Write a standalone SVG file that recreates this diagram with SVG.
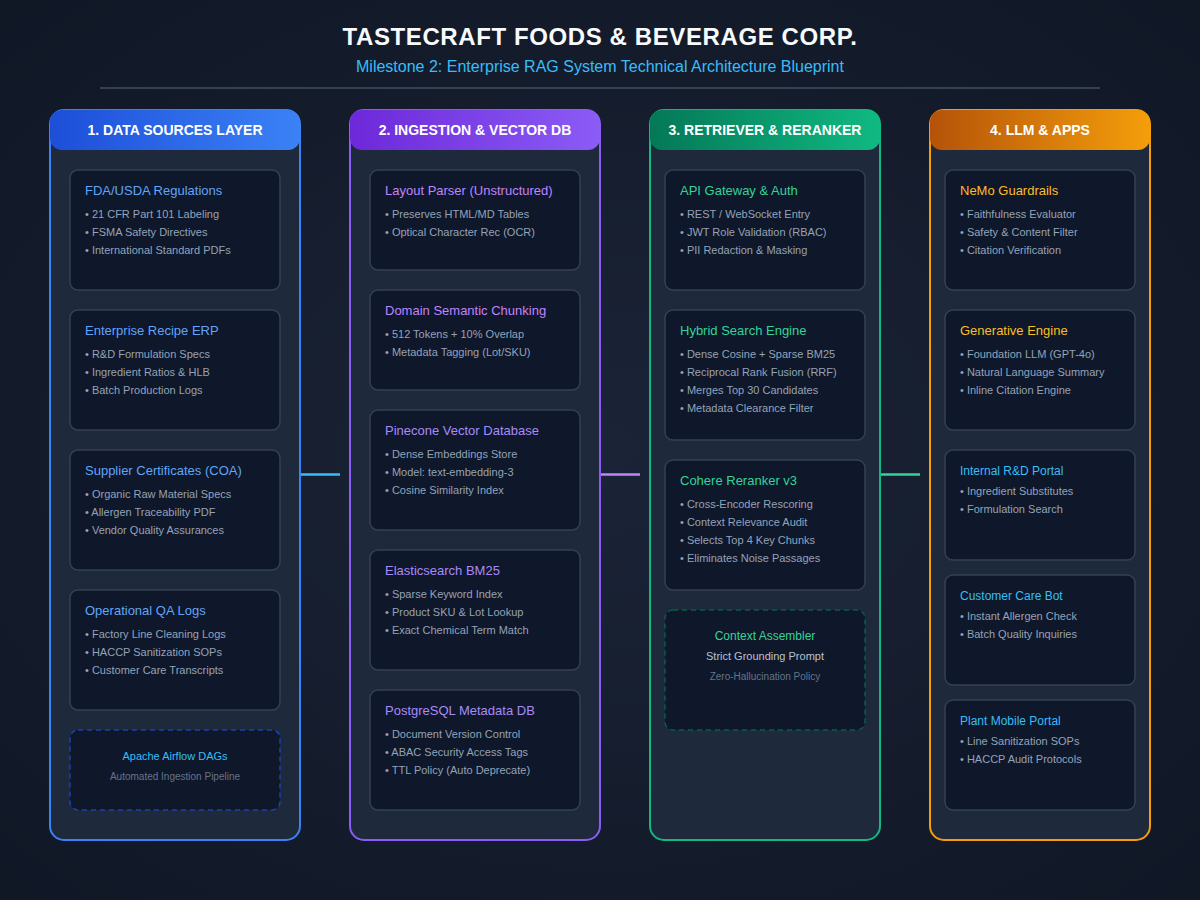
<svg xmlns="http://www.w3.org/2000/svg" width="1200" height="900" viewBox="0 0 1200 900">
<defs>
<radialGradient id="bg" cx="50%" cy="50%" r="75%">
<stop offset="0" stop-color="#1b2437"/>
<stop offset="1" stop-color="#0f1624"/>
</radialGradient>
<linearGradient id="g1" x1="0" y1="0" x2="1" y2="0"><stop offset="0" stop-color="#1d4ed8"/><stop offset="1" stop-color="#3b82f6"/></linearGradient>
<linearGradient id="g2" x1="0" y1="0" x2="1" y2="0"><stop offset="0" stop-color="#6d28d9"/><stop offset="1" stop-color="#8b5cf6"/></linearGradient>
<linearGradient id="g3" x1="0" y1="0" x2="1" y2="0"><stop offset="0" stop-color="#047857"/><stop offset="1" stop-color="#10b981"/></linearGradient>
<linearGradient id="g4" x1="0" y1="0" x2="1" y2="0"><stop offset="0" stop-color="#b45309"/><stop offset="1" stop-color="#f59e0b"/></linearGradient>
</defs>
<style>
text{font-family:"Liberation Sans",Arial,Helvetica,sans-serif}
.title{font-size:24px;font-weight:bold;fill:#f8fafc;text-anchor:middle;letter-spacing:0.6px}
.sub{font-size:16px;fill:#38bdf8;text-anchor:middle}
.col{fill:#1e293b;stroke-width:2}
.hdr{font-size:14px;font-weight:bold;fill:#ffffff;text-anchor:middle}
.card{fill:#0f172a;stroke:#334155;stroke-width:1.5}
.ct{font-size:13px}
.b{font-size:11px;fill:#94a3b8}
.blue{fill:#60a5fa}
.pl{fill:#c084fc}
.pu{fill:#a78bfa}
.gr{fill:#34d399}
.or{fill:#fbbf24}
.sk{fill:#38bdf8}
.dash{fill:#0f172a;stroke-width:1.5;stroke-dasharray:5 4}
.dt{font-size:11px;text-anchor:middle}
.dm{font-size:11px;fill:#b6c2d1;text-anchor:middle}
.ds{font-size:10px;fill:#64748b;text-anchor:middle}
.conn{stroke-width:2.5}
</style>
<rect width="1200" height="900" fill="url(#bg)"/>
<g id="header">
<text class="title" x="600" y="45">TASTECRAFT FOODS &amp; BEVERAGE CORP.</text>
<text class="sub" x="600" y="72">Milestone 2: Enterprise RAG System Technical Architecture Blueprint</text>
<line x1="100" y1="88" x2="1100" y2="88" stroke="#334155" stroke-width="2"/>
</g>

<g id="col1">
<rect class="col" x="50" y="110" width="250" height="730" rx="14" stroke="#3b82f6"/>
<rect x="50" y="110" width="250" height="40" rx="12" fill="url(#g1)"/>
<text class="hdr" x="175" y="135">1. DATA SOURCES LAYER</text>
</g>
<g id="col2">
<rect class="col" x="350" y="110" width="250" height="730" rx="14" stroke="#8b5cf6"/>
<rect x="350" y="110" width="250" height="40" rx="12" fill="url(#g2)"/>
<text class="hdr" x="475" y="135">2. INGESTION &amp; VECTOR DB</text>
</g>
<g id="col3">
<rect class="col" x="650" y="110" width="230" height="730" rx="14" stroke="#10b981"/>
<rect x="650" y="110" width="230" height="40" rx="12" fill="url(#g3)"/>
<text class="hdr" x="765" y="135">3. RETRIEVER &amp; RERANKER</text>
</g>
<g id="col4">
<rect class="col" x="930" y="110" width="220" height="730" rx="14" stroke="#f59e0b"/>
<rect x="930" y="110" width="220" height="40" rx="12" fill="url(#g4)"/>
<text class="hdr" x="1040" y="135">4. LLM &amp; APPS</text>
</g>

<g id="connectors">
<line class="conn" x1="301" y1="474.5" x2="340" y2="474.5" stroke="#38bdf8"/>
<line class="conn" x1="601" y1="474.5" x2="640" y2="474.5" stroke="#c084fc"/>
<line class="conn" x1="881" y1="474.5" x2="920" y2="474.5" stroke="#34d399"/>
</g>

<g id="fda">
<rect class="card" x="70" y="170" width="210" height="120" rx="8"/>
<text class="ct blue" x="85" y="195">FDA/USDA Regulations</text>
<text class="b" x="85" y="218">• 21 CFR Part 101 Labeling</text>
<text class="b" x="85" y="236">• FSMA Safety Directives</text>
<text class="b" x="85" y="254">• International Standard PDFs</text>
</g>
<g id="erp">
<rect class="card" x="70" y="310" width="210" height="120" rx="8"/>
<text class="ct blue" x="85" y="335">Enterprise Recipe ERP</text>
<text class="b" x="85" y="358">• R&amp;D Formulation Specs</text>
<text class="b" x="85" y="376">• Ingredient Ratios &amp; HLB</text>
<text class="b" x="85" y="394">• Batch Production Logs</text>
</g>
<g id="coa">
<rect class="card" x="70" y="450" width="210" height="120" rx="8"/>
<text class="ct blue" x="85" y="475">Supplier Certificates (COA)</text>
<text class="b" x="85" y="498">• Organic Raw Material Specs</text>
<text class="b" x="85" y="516">• Allergen Traceability PDF</text>
<text class="b" x="85" y="534">• Vendor Quality Assurances</text>
</g>
<g id="qa">
<rect class="card" x="70" y="590" width="210" height="120" rx="8"/>
<text class="ct blue" x="85" y="615">Operational QA Logs</text>
<text class="b" x="85" y="638">• Factory Line Cleaning Logs</text>
<text class="b" x="85" y="656">• HACCP Sanitization SOPs</text>
<text class="b" x="85" y="674">• Customer Care Transcripts</text>
</g>
<g id="airflow">
<rect class="dash" x="70" y="730" width="210" height="80" rx="8" stroke="#1e40af"/>
<text class="dt sk" x="175" y="760">Apache Airflow DAGs</text>
<text class="ds" x="175" y="780">Automated Ingestion Pipeline</text>
</g>

<g id="parser">
<rect class="card" x="370" y="170" width="210" height="100" rx="8"/>
<text class="ct pl" x="385" y="195">Layout Parser (Unstructured)</text>
<text class="b" x="385" y="218">• Preserves HTML/MD Tables</text>
<text class="b" x="385" y="236">• Optical Character Rec (OCR)</text>
</g>
<g id="chunking">
<rect class="card" x="370" y="290" width="210" height="100" rx="8"/>
<text class="ct pl" x="385" y="315">Domain Semantic Chunking</text>
<text class="b" x="385" y="338">• 512 Tokens + 10% Overlap</text>
<text class="b" x="385" y="356">• Metadata Tagging (Lot/SKU)</text>
</g>
<g id="pinecone">
<rect class="card" x="370" y="410" width="210" height="120" rx="8" stroke="#8b5cf6"/>
<text class="ct pu" x="385" y="435">Pinecone Vector Database</text>
<text class="b" x="385" y="458">• Dense Embeddings Store</text>
<text class="b" x="385" y="476">• Model: text-embedding-3</text>
<text class="b" x="385" y="494">• Cosine Similarity Index</text>
</g>
<g id="elastic">
<rect class="card" x="370" y="550" width="210" height="120" rx="8" stroke="#8b5cf6"/>
<text class="ct pu" x="385" y="575">Elasticsearch BM25</text>
<text class="b" x="385" y="598">• Sparse Keyword Index</text>
<text class="b" x="385" y="616">• Product SKU &amp; Lot Lookup</text>
<text class="b" x="385" y="634">• Exact Chemical Term Match</text>
</g>
<g id="postgres">
<rect class="card" x="370" y="690" width="210" height="120" rx="8" stroke="#8b5cf6"/>
<text class="ct pu" x="385" y="715">PostgreSQL Metadata DB</text>
<text class="b" x="385" y="738">• Document Version Control</text>
<text class="b" x="385" y="756">• ABAC Security Access Tags</text>
<text class="b" x="385" y="774">• TTL Policy (Auto Deprecate)</text>
</g>

<g id="gateway">
<rect class="card" x="665" y="170" width="200" height="120" rx="8"/>
<text class="ct gr" x="680" y="195">API Gateway &amp; Auth</text>
<text class="b" x="680" y="218">• REST / WebSocket Entry</text>
<text class="b" x="680" y="236">• JWT Role Validation (RBAC)</text>
<text class="b" x="680" y="254">• PII Redaction &amp; Masking</text>
</g>
<g id="hybrid">
<rect class="card" x="665" y="310" width="200" height="130" rx="8" stroke="#10b981"/>
<text class="ct gr" x="680" y="335">Hybrid Search Engine</text>
<text class="b" x="680" y="358">• Dense Cosine + Sparse BM25</text>
<text class="b" x="680" y="376">• Reciprocal Rank Fusion (RRF)</text>
<text class="b" x="680" y="394">• Merges Top 30 Candidates</text>
<text class="b" x="680" y="412">• Metadata Clearance Filter</text>
</g>
<g id="reranker">
<rect class="card" x="665" y="460" width="200" height="130" rx="8" stroke="#10b981"/>
<text class="ct gr" x="680" y="485">Cohere Reranker v3</text>
<text class="b" x="680" y="508">• Cross-Encoder Rescoring</text>
<text class="b" x="680" y="526">• Context Relevance Audit</text>
<text class="b" x="680" y="544">• Selects Top 4 Key Chunks</text>
<text class="b" x="680" y="562">• Eliminates Noise Passages</text>
</g>
<g id="assembler">
<rect class="dash" x="665" y="610" width="200" height="120" rx="8" stroke="#065f46"/>
<text class="dt gr" x="765" y="640" style="font-size:12px">Context Assembler</text>
<text class="dm" x="765" y="660">Strict Grounding Prompt</text>
<text class="ds" x="765" y="680">Zero-Hallucination Policy</text>
</g>

<g id="nemo">
<rect class="card" x="945" y="170" width="190" height="120" rx="8" stroke="#f59e0b"/>
<text class="ct or" x="960" y="195">NeMo Guardrails</text>
<text class="b" x="960" y="218">• Faithfulness Evaluator</text>
<text class="b" x="960" y="236">• Safety &amp; Content Filter</text>
<text class="b" x="960" y="254">• Citation Verification</text>
</g>
<g id="generative">
<rect class="card" x="945" y="310" width="190" height="120" rx="8" stroke="#f59e0b"/>
<text class="ct or" x="960" y="335">Generative Engine</text>
<text class="b" x="960" y="358">• Foundation LLM (GPT-4o)</text>
<text class="b" x="960" y="376">• Natural Language Summary</text>
<text class="b" x="960" y="394">• Inline Citation Engine</text>
</g>
<g id="rdportal">
<rect class="card" x="945" y="450" width="190" height="110" rx="8"/>
<text class="ct sk" x="960" y="475" style="font-size:12px">Internal R&amp;D Portal</text>
<text class="b" x="960" y="495">• Ingredient Substitutes</text>
<text class="b" x="960" y="513">• Formulation Search</text>
</g>
<g id="carebot">
<rect class="card" x="945" y="575" width="190" height="110" rx="8"/>
<text class="ct sk" x="960" y="600" style="font-size:12px">Customer Care Bot</text>
<text class="b" x="960" y="620">• Instant Allergen Check</text>
<text class="b" x="960" y="638">• Batch Quality Inquiries</text>
</g>
<g id="mobile">
<rect class="card" x="945" y="700" width="190" height="110" rx="8"/>
<text class="ct sk" x="960" y="725" style="font-size:12px">Plant Mobile Portal</text>
<text class="b" x="960" y="745">• Line Sanitization SOPs</text>
<text class="b" x="960" y="763">• HACCP Audit Protocols</text>
</g>
</svg>
